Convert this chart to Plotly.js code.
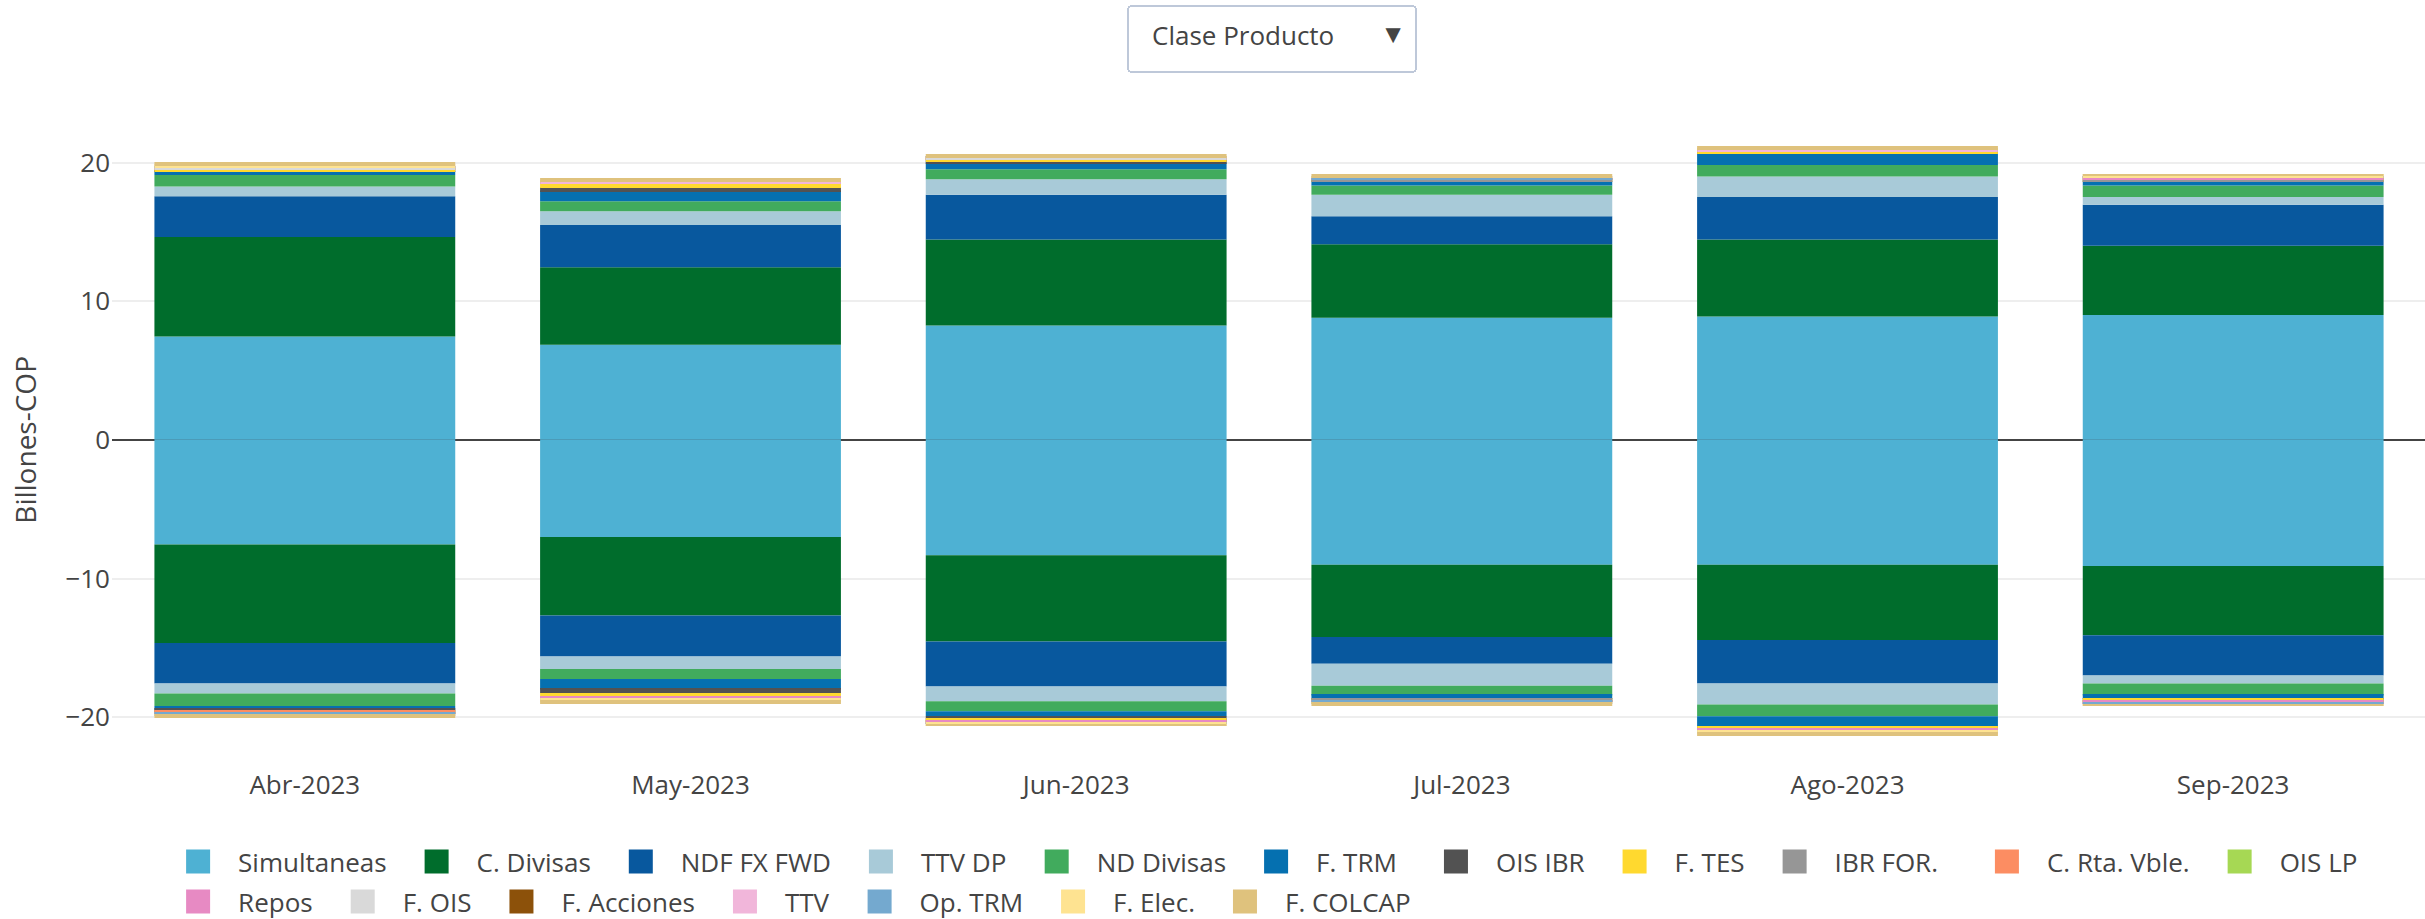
<!DOCTYPE html>
<html><head><meta charset="utf-8">
<script src="https://cdn.plot.ly/plotly-3.0.1.min.js"></script>
<style>
html,body{margin:0;padding:0;background:#fff;overflow:hidden;width:2425px;height:919px}
#chart{width:1212.5px;height:459.5px;transform:scale(2);transform-origin:0 0}
</style></head><body><div id="chart"></div>
<script>
const months = ['Abr-2023','May-2023','Jun-2023','Jul-2023','Ago-2023','Sep-2023'];
const products = ['Simultaneas','C. Divisas','NDF FX FWD','TTV DP','ND Divisas','F. TRM','OIS IBR','F. TES','IBR FOR.','C. Rta. Vble.','OIS LP','Repos','F. OIS','F. Acciones','TTV','Op. TRM','F. Elec.','F. COLCAP'];
const colors = ['#4eb1d3','#006d2c','#08589e','#a8cad8','#41ab5d','#0570b0','#525252','#ffd92f','#969696','#fc8d62','#a6d854','#e78ac3','#d9d9d9','#8c510a','#f1b6da','#74a9cf','#fee391','#dfc27d'];
// which legend block each product's entry sits in
const legendOf = ['legend','legend','legend','legend','legend','legend','legend3','legend3','legend3','legend4','legend4',
                  'legend2','legend2','legend2','legend2','legend2','legend2','legend2'];

// Positive side (compras) per month, in product order
const abrPos = [7.45, 7.17, 2.94, 0.72, 0.83, 0.30, 0.04, 0.06, 0.03, 0.02, 0.01, 0.02, 0.03, 0.02, 0.02, 0.06, 0.08, 0.15];
const mayPos = [6.85, 5.60, 3.05, 0.98, 0.72, 0.79, 0.22, 0.25, 0.04, 0.01, 0.01, 0.02, 0.03, 0.02, 0.02, 0.04, 0.07, 0.14];
const junPos = [8.25, 6.20, 3.23, 1.12, 0.72, 0.50, 0.10, 0.10, 0.03, 0.02, 0.01, 0.02, 0.03, 0.02, 0.02, 0.05, 0.05, 0.10];
const julPos = [8.80, 5.30, 2.02, 1.56, 0.67, 0.30, 0.03, 0.04, 0.03, 0.02, 0.01, 0.02, 0.03, 0.02, 0.02, 0.03, 0.05, 0.12];
const agoPos = [8.90, 5.55, 3.06, 1.49, 0.83, 0.79, 0.04, 0.10, 0.03, 0.02, 0.01, 0.02, 0.03, 0.02, 0.02, 0.04, 0.06, 0.14];
const sepPos = [9.00, 5.00, 2.96, 0.55, 0.84, 0.29, 0.06, 0.03, 0.05, 0.07, 0.01, 0.03, 0.04, 0.02, 0.03, 0.03, 0.03, 0.07];

// Negative side (ventas) per month, in product order
const abrNeg = [-7.55, -7.11, -2.91, -0.72, -0.91, -0.28, -0.04, -0.06, -0.03, -0.02, -0.01, -0.02, -0.03, -0.02, -0.02, -0.06, -0.08, -0.15];
const mayNeg = [-7.00, -5.67, -2.95, -0.91, -0.72, -0.76, -0.24, -0.30, -0.04, -0.01, -0.01, -0.02, -0.03, -0.02, -0.02, -0.04, -0.07, -0.14];
const junNeg = [-8.33, -6.22, -3.23, -1.07, -0.72, -0.36, -0.24, -0.10, -0.03, -0.02, -0.01, -0.02, -0.03, -0.02, -0.02, -0.04, -0.05, -0.10];
const julNeg = [-9.00, -5.22, -1.93, -1.58, -0.71, -0.24, -0.03, -0.04, -0.03, -0.02, -0.01, -0.02, -0.03, -0.02, -0.02, -0.03, -0.04, -0.10];
const agoNeg = [-9.00, -5.44, -3.14, -1.51, -0.84, -0.79, -0.04, -0.10, -0.03, -0.02, -0.01, -0.02, -0.03, -0.02, -0.02, -0.04, -0.06, -0.16];
const sepNeg = [-9.10, -5.00, -2.90, -0.58, -0.86, -0.24, -0.06, -0.03, -0.05, -0.07, -0.01, -0.03, -0.04, -0.02, -0.03, -0.03, -0.03, -0.08];

const posRows = [abrPos, mayPos, junPos, julPos, agoPos, sepPos];
const negRows = [abrNeg, mayNeg, junNeg, julNeg, agoNeg, sepNeg];

const traces = [];
products.forEach((p, i) => {
  traces.push({
    type: 'bar', name: p, x: months, y: posRows.map(r => r[i]),
    marker: {color: colors[i]}, legendgroup: p, showlegend: true, legend: legendOf[i]
  });
});
products.forEach((p, i) => {
  traces.push({
    type: 'bar', name: p, x: months, y: negRows.map(r => r[i]),
    marker: {color: colors[i]}, legendgroup: p, showlegend: false, legend: legendOf[i]
  });
});

const legendBase = {orientation: 'h', xref: 'container', xanchor: 'left', yref: 'container', yanchor: 'top',
                    traceorder: 'normal', font: {size: 13, color: '#444'}, bgcolor: 'rgba(0,0,0,0)'};

const layout = {
  width: 1212.5, height: 459.5,
  margin: {l: 56, r: 0, t: 57, b: 75.5, pad: 0},
  barmode: 'relative', bargap: 0.22,
  paper_bgcolor: '#fff', plot_bgcolor: '#fff',
  font: {family: '"Open Sans", sans-serif', size: 13, color: '#444'},
  xaxis: {type: 'category', showgrid: false, zeroline: false, automargin: false, tickfont: {size: 13}},
  yaxis: {range: [-23.5, 23.5], dtick: 10, gridcolor: '#eee', zeroline: true, zerolinecolor: '#444', zerolinewidth: 1,
          automargin: false, tickfont: {size: 13}, title: {text: 'Billones-COP', font: {size: 14}}},
  legend: Object.assign({}, legendBase, {x: 0.0652, y: 0.095}),
  legend3: Object.assign({}, legendBase, {x: 0.5839, y: 0.095}),
  legend4: Object.assign({}, legendBase, {x: 0.8111, y: 0.095}),
  legend2: Object.assign({}, legendBase, {x: 0.0652, y: 0.0515}),
  updatemenus: [{
    type: 'dropdown', x: 0.5, xanchor: 'center', y: 1.170, yanchor: 'top',
    bgcolor: '#fff', bordercolor: '#BEC8D9', font: {size: 13, color: '#444'}, showactive: true,
    buttons: [{label: 'Clase Producto', method: 'skip', args: []},
              {label: 'Tipo de Producto', method: 'skip', args: []}]
  }]
};

Plotly.newPlot('chart', traces, layout, {displayModeBar: false});
</script></body></html>
